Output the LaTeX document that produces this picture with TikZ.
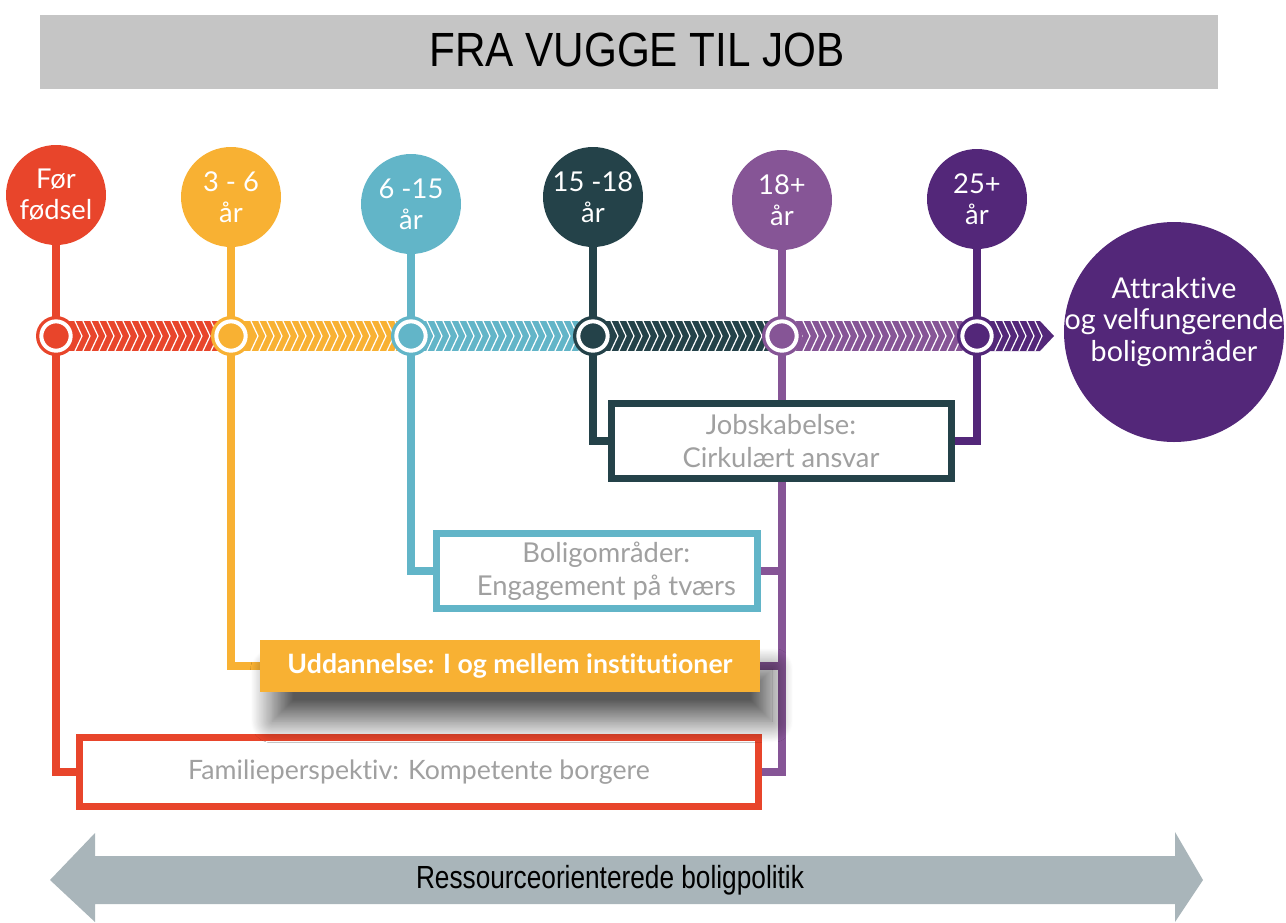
\documentclass[tikz,border=0pt]{standalone}
\usepackage{fontspec}
\setmainfont{Lato}[Ligatures={NoCommon,NoDiscretionary}]
\newfontfamily\hdrfont{Liberation Sans}[FakeStretch=0.88]
\newfontfamily\polfont{Liberation Sans}[FakeStretch=0.82]
\usetikzlibrary{shadows.blur}
\definecolor{cRed}{HTML}{E8452B}
\definecolor{cYel}{HTML}{F8B133}
\definecolor{cTeal}{HTML}{62B5C8}
\definecolor{cDark}{HTML}{244249}
\definecolor{cPur}{HTML}{865596}
\definecolor{cDPur}{HTML}{532779}
\definecolor{hdrgray}{HTML}{C5C5C5}
\definecolor{arrgray}{HTML}{A9B5BA}
\definecolor{txtgray}{HTML}{A0A0A0}
\pgfdeclarelayer{bg}
\pgfsetlayers{bg,main}
\tikzset{
  agec/.style={circle, inner sep=0pt, minimum size=75pt, text=white, align=center,
    font=\fontsize{20.5}{23}\selectfont},
  conn/.style={line width=6pt},
  outbox/.style={draw, line width=5.25pt, fill=white, text=txtgray, align=center,
    inner sep=0pt, font=\fontsize{20.5}{25}\selectfont},
  ringmark/.style={circle, inner sep=0pt, minimum size=22pt, draw=white, line width=3pt},
  chev/.style={white, line width=0.9pt}
}
\begin{document}
\begin{tikzpicture}[x=0.75pt,y=-0.75pt]
\useasboundingbox (0,0) rectangle (1286,922);

% header
\node[fill=hdrgray, minimum width=883.5pt, minimum height=55.5pt, inner sep=0pt] (hdr) at (629,52) {};
\node[font=\hdrfont\fontsize{36}{36}\selectfont, inner sep=0pt] (hdrtxt) at (637,50) {FRA VUGGE TIL JOB};

% timeline band
\fill[cRed] (56,321) rectangle (231,351);
\fill[cYel] (231,321) rectangle (411,351);
\fill[cTeal] (411,321) rectangle (593,351);
\fill[cDark] (593,321) rectangle (782,351);
\fill[cPur] (782,321) rectangle (977,351);
\fill[cDPur] (977,321) -- (1040,321) -- (1054,336) -- (1040,351) -- (977,351) -- cycle;
\begin{scope}
  \clip (56,321) -- (1040,321) -- (1054,336) -- (1040,351) -- (56,351) -- cycle;
  \foreach \x in {66,74,...,1034} \draw[chev] (\x,319) -- (\x+8,336) -- (\x,353);
\end{scope}

% markers
\foreach \xx/\cc/\nn in {56/cRed/m1, 231/cYel/m2, 411/cTeal/m3, 593/cDark/m4, 782/cPur/m5, 977/cDPur/m6}{
  \fill[\cc] (\xx,336) circle[radius=15pt];
  \node[ringmark, fill=\cc] (\nn) at (\xx,336) {};
}

% age circles
\node[agec, fill=cRed]  (c1) at (56,195)  {Før\\fødsel};
\node[agec, fill=cYel]  (c2) at (231,197) {3 - 6\\år};
\node[agec, fill=cTeal] (c3) at (411,204) {6 -15\\år};
\node[agec, fill=cDark] (c4) at (593,197) {15 -18\\år};
\node[agec, fill=cPur]  (c5) at (782,200) {18+\\år};
\node[agec, fill=cDPur] (c6) at (977,199) {25+\\år};
\node[circle, fill=cDPur, minimum size=165pt, inner sep=0pt] (goal) at (1174,332) {};
\node[text=white, align=center, font=\fontsize{21.5}{23.5}\selectfont] (goaltxt) at (1174,322)
  {Attraktive\\og velfungerende\\boligområder};

% boxes
\node[outbox, draw=cRed, minimum width=509.25pt, minimum height=51.75pt,
  font=\fontsize{20}{25}\selectfont] (fam) at (419,772)
  {Familieperspektiv: Kompetente borgere};
\node[outbox, draw=cTeal, minimum width=240.75pt, minimum height=56.25pt] (bol) at (597,571)
  {\hspace*{14pt}Boligområder:\\\hspace*{14pt}Engagement på tværs};
\node[fill=cYel, text=white, minimum width=375pt, minimum height=39pt, inner sep=0pt,
  font=\bfseries\fontsize{20}{20}\selectfont,
  blur shadow={shadow xshift=9pt, shadow yshift=-22pt, shadow blur radius=16pt,
    shadow blur steps=28, shadow opacity=65}]
  (udd) at (510,666) {Uddannelse: I og mellem institutioner};
\node[outbox, draw=cDark, minimum width=255pt, minimum height=56.25pt] (job) at (781,441)
  {Jobskabelse:\\Cirkulært ansvar};

% connectors
\begin{pgfonlayer}{bg}
  \draw[conn, cRed]  (c1.south) -- (c1.south |- fam.west) -- (fam.west);
  \draw[conn, cYel]  (c2.south) -- (c2.south |- udd.west) -- (udd.west);
  \draw[conn, cTeal] (c3.south) -- (c3.south |- bol.west) -- (bol.west);
  \draw[conn, cDark] (c4.south) -- (c4.south |- job.west) -- (job.west);
  \draw[conn, cDPur] (c6.south) -- (c6.south |- job.east) -- (job.east);
  \draw[conn, cPur]  (c5.south) -- (c5.south |- fam.east) -- (fam.east);
  \draw[conn, cPur]  (c5.south |- bol.east) -- (bol.east);
  \draw[conn, cPur]  (c5.south |- udd.east) -- (udd.east);
\end{pgfonlayer}

% bottom double arrow
\fill[arrgray] (50,880) -- (95,833) -- (95,856) -- (1175,856) -- (1175,832) -- (1203,880)
  -- (1175,922) -- (1175,904) -- (95,904) -- (95,922) -- cycle;
\node[font=\polfont\fontsize{24}{24}\selectfont] (pol) at (610,880) {Ressourceorienterede boligpolitik};
\end{tikzpicture}
\end{document}
